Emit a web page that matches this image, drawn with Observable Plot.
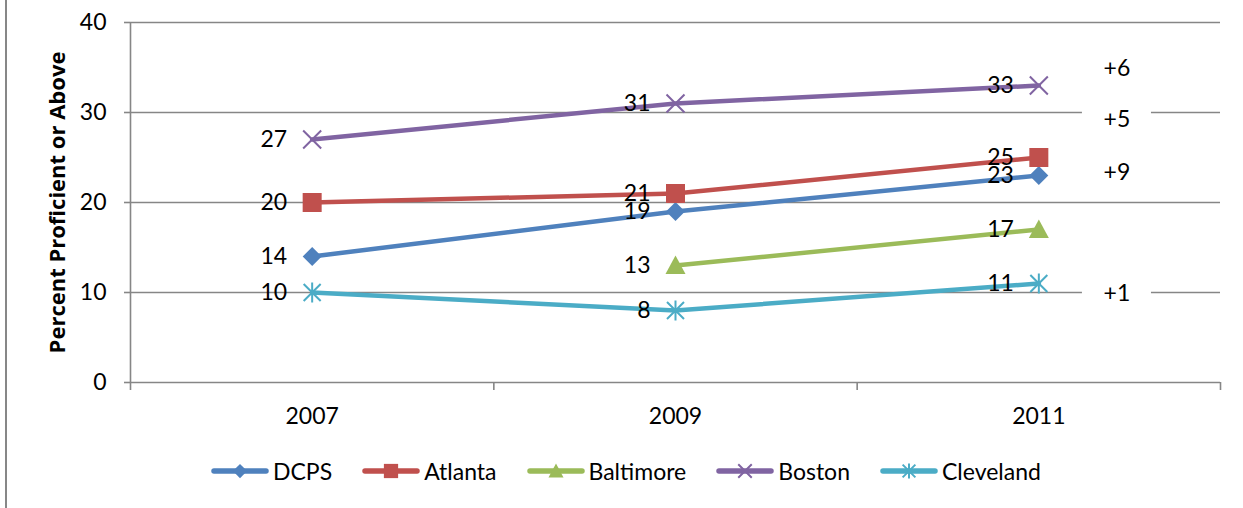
<!DOCTYPE html>
<html>
<head>
<meta charset="utf-8">
<script src="https://cdn.jsdelivr.net/npm/d3@7"></script>
<script src="https://cdn.jsdelivr.net/npm/@observablehq/plot@0.6"></script>
<style>
  html, body { margin: 0; padding: 0; background: #fff; }
  body { width: 1243px; height: 508px; position: relative; overflow: hidden; font-family: Lato, "Open Sans", sans-serif; }
  #frame-left { position: absolute; left: 5px; top: 0; width: 2px; height: 508px; background: #878787; }
  #chart svg { display: block; }
  #legend { position: absolute; left: 211px; top: 456px; display: flex; align-items: center; gap: 30px; font-size: 23px; color: #000; }
  .item { display: flex; align-items: center; gap: 4px; }
</style>
</head>
<body>
<div id="frame-left"></div>
<div id="chart"></div>
<div id="legend"></div>
<script>
// ---- data ----
const years = [2007, 2009, 2011];
const seriesNames = ["DCPS", "Atlanta", "Baltimore", "Boston", "Cleveland"];
const dcps = [14, 19, 23];
const atlanta = [20, 21, 25];
const baltimore = [null, 13, 17];
const boston = [27, 31, 33];
const cleveland = [10, 8, 11];
const yTicks = [0, 10, 20, 30, 40];
const changeSeries = ["Boston", "Atlanta", "DCPS", "Cleveland"];
const changeLabelY = [34.9, 29.2, 23.3, 9.9];
const yTitle = "Percent Proficient or Above";

// ---- styles ----
const colors = { DCPS: "#4F81BD", Atlanta: "#C0504D", Baltimore: "#9BBB59", Boston: "#8064A2", Cleveland: "#4BACC6" };
const sym = (fn) => ({ draw(ctx, size) { const r = Math.sqrt(size / Math.PI); fn(ctx, r); } });
const symbols = {
  DCPS: sym((c, r) => { c.moveTo(0, -r); c.lineTo(r, 0); c.lineTo(0, r); c.lineTo(-r, 0); c.closePath(); }),
  Atlanta: sym((c, r) => { c.moveTo(-r, -r); c.lineTo(r, -r); c.lineTo(r, r); c.lineTo(-r, r); c.closePath(); }),
  Baltimore: sym((c, r) => { c.moveTo(0, -r); c.lineTo(r, r * 0.85); c.lineTo(-r, r * 0.85); c.closePath(); }),
  Boston: sym((c, r) => { c.moveTo(-r, -r); c.lineTo(r, r); c.moveTo(r, -r); c.lineTo(-r, r); }),
  Cleveland: sym((c, r) => { c.moveTo(0, -r); c.lineTo(0, r); c.moveTo(-r * 0.85, -r * 0.85); c.lineTo(r * 0.85, r * 0.85); c.moveTo(r * 0.85, -r * 0.85); c.lineTo(-r * 0.85, r * 0.85); })
};
const filled = { DCPS: true, Atlanta: true, Baltimore: true, Boston: false, Cleveland: false };
const markerR = { DCPS: 9.5, Atlanta: 9.5, Baltimore: 10, Boston: 9, Cleveland: 10 };

const valuesBySeries = { DCPS: dcps, Atlanta: atlanta, Baltimore: baltimore, Boston: boston, Cleveland: cleveland };
const rows = [];
for (const s of seriesNames) {
  valuesBySeries[s].forEach((v, i) => { if (v != null) rows.push({ series: s, year: years[i], value: v }); });
}
const changeRows = changeSeries.map((s, i) => {
  const v = valuesBySeries[s];
  return { series: s, y: changeLabelY[i], text: "+" + (v[v.length - 1] - v[0]) };
});
const boundaries = [years[0] - 1, ...years.map(y => y + 1)];
const labelX = years[years.length - 1] + 0.43;

const FONT = 23;
const gray = "#868686";

const seriesMarks = seriesNames.flatMap(s => {
  const data = rows.filter(d => d.series === s);
  return [
    Plot.line(data, { x: "year", y: "value", stroke: colors[s], strokeWidth: 4.5, strokeLinejoin: "round", strokeLinecap: "round" }),
    Plot.dot(data, {
      x: "year", y: "value", r: markerR[s], symbol: symbols[s],
      fill: filled[s] ? colors[s] : "none",
      stroke: filled[s] ? "none" : colors[s],
      strokeWidth: filled[s] ? 0 : 2
    })
  ];
});

const plot = Plot.plot({
  width: 1243,
  height: 430,
  marginLeft: 130,
  marginRight: 23,
  marginTop: 22,
  marginBottom: 48,
  style: { fontFamily: "Lato, 'Open Sans', sans-serif", background: "white", overflow: "visible" },
  x: { type: "linear", domain: [boundaries[0], boundaries[boundaries.length - 1]] },
  y: { domain: [0, 40] },
  marks: [
    Plot.ruleY(yTicks, { stroke: gray, strokeWidth: 1.6 }),
    Plot.ruleX([boundaries[0]], { stroke: gray, strokeWidth: 1.6 }),
    Plot.axisY({ ticks: yTicks, tickSize: 6, tickPadding: 18, stroke: gray, strokeWidth: 1.6, fill: "#000", fontSize: FONT, label: null }),
    Plot.axisX({ ticks: years, tickSize: 0, tickPadding: 25, fill: "#000", fontSize: FONT, tickFormat: d => String(d), label: null }),
    Plot.axisX({ ticks: boundaries, tickSize: 8, tickFormat: () => "", stroke: gray, strokeWidth: 1.6, label: null }),
    Plot.text([yTitle], { frameAnchor: "left", textAnchor: "middle", rotate: -90, dx: -73, fontWeight: "bold", fontSize: 22, fontFamily: "'Open Sans', Lato, sans-serif", fill: "#000" }),
    ...seriesMarks,
    Plot.text(rows, { x: "year", y: "value", text: d => String(d.value), textAnchor: "end", dx: -25, fontSize: FONT, fill: "#000" }),
    Plot.rect(changeRows, { x1: labelX - 0.19, x2: labelX + 0.19, y1: d => d.y - 1.2, y2: d => d.y + 1.2, fill: "white" }),
    Plot.text(changeRows, { x: () => labelX, y: "y", text: "text", fontSize: FONT, fill: "#000" })
  ]
});
document.getElementById("chart").appendChild(plot);

// ---- legend ----
const legend = document.getElementById("legend");
const ns = "http://www.w3.org/2000/svg";
for (const s of seriesNames) {
  const item = document.createElement("div");
  item.className = "item";
  const svg = document.createElementNS(ns, "svg");
  svg.setAttribute("width", 58); svg.setAttribute("height", 30);
  const line = document.createElementNS(ns, "line");
  line.setAttribute("x1", 3); line.setAttribute("x2", 55); line.setAttribute("y1", 15); line.setAttribute("y2", 15);
  line.setAttribute("stroke", colors[s]); line.setAttribute("stroke-width", 5.5); line.setAttribute("stroke-linecap", "round");
  svg.appendChild(line);
  const p = d3.path();
  const r = markerR[s] * 0.75;
  symbols[s].draw(p, Math.PI * r * r);
  const path = document.createElementNS(ns, "path");
  path.setAttribute("d", p.toString());
  path.setAttribute("transform", "translate(29,15)");
  path.setAttribute("fill", filled[s] ? colors[s] : "none");
  path.setAttribute("stroke", filled[s] ? "none" : colors[s]);
  path.setAttribute("stroke-width", 2);
  svg.appendChild(path);
  item.appendChild(svg);
  const label = document.createElement("span");
  label.textContent = s;
  item.appendChild(label);
  legend.appendChild(item);
}
</script>
</body>
</html>
